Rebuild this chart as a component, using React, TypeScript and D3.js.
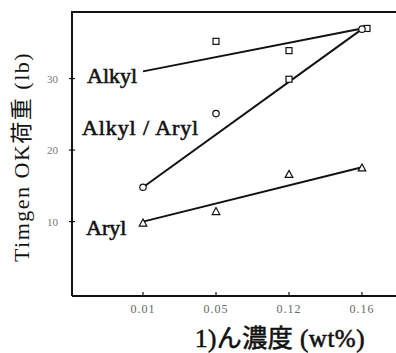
import React from "react";
import * as d3 from "d3";

const categories = ["0.01", "0.05", "0.12", "0.16"];
const yTicks = [10, 20, 30];
const alkylPoints: [string, number][] = [["0.05", 35.2], ["0.12", 33.9], ["0.16", 37.0]];
const alkylLine: [string, number][] = [["0.01", 31.0], ["0.16", 37.0]];
const mixedPoints: [string, number][] = [["0.01", 14.8], ["0.05", 25.1], ["0.12", 29.9], ["0.16", 36.9]];
const mixedLine: [string, number][] = [["0.01", 14.8], ["0.16", 36.9]];
const arylPoints: [string, number][] = [["0.01", 9.8], ["0.05", 11.4], ["0.12", 16.6], ["0.16", 17.5]];
const arylLine: [string, number][] = [["0.01", 10.0], ["0.16", 17.6]];

const serif = "Liberation Serif, DejaVu Serif, serif";
const cjk = "Noto Sans CJK JP, sans-serif";

export default function App() {
  const x = d3.scalePoint<string>().domain(categories).range([143, 362]);
  const y = d3.scaleLinear().domain([-0.4, 39.3]).range([296, 12]);
  const line = d3
    .line<[string, number]>()
    .x((d) => x(d[0]) as number)
    .y((d) => y(d[1]));
  const left = 72;
  const bottom = 296;
  const top = 12;
  const sq = (d: [string, number], i: number, dx = 0) => (
    <rect key={"s" + i} x={(x(d[0]) as number) + dx - 3} y={y(d[1]) - 3} width={6} height={6} fill="white" stroke="#111" strokeWidth={1.2} />
  );
  const circ = (d: [string, number], i: number) => (
    <circle key={"c" + i} cx={x(d[0]) as number} cy={y(d[1])} r={3.2} fill="white" stroke="#111" strokeWidth={1.2} />
  );
  const tri = (d: [string, number], i: number) => {
    const cx = x(d[0]) as number;
    const cy = y(d[1]);
    return (
      <path key={"t" + i} d={`M${cx},${cy - 4}L${cx + 3.8},${cy + 3}L${cx - 3.8},${cy + 3}Z`} fill="white" stroke="#111" strokeWidth={1.2} />
    );
  };
  const boldStyle = { stroke: "#111", strokeWidth: 0.6 };
  return (
    <svg width={396} height={353} style={{ position: "absolute", left: 0, top: 0 }}>
      <rect width={396} height={353} fill="white" />
      {/* frame */}
      <path d={`M${left},${bottom}V${top}H396`} fill="none" stroke="#111" strokeWidth={2} />
      <line x1={left} x2={396} y1={bottom} y2={bottom} stroke="#111" strokeWidth={2} />
      {/* y ticks */}
      {yTicks.map((t) => (
        <g key={t}>
          <line x1={left - 3} x2={left + 3} y1={y(t)} y2={y(t)} stroke="#111" strokeWidth={1.2} />
          <text x={left - 14} y={y(t) + 4} fontFamily={serif} fontSize={11} fill="#777" textAnchor="end">
            {t}
          </text>
        </g>
      ))}
      {/* x ticks */}
      {categories.map((c) => (
        <g key={c}>
          <line x1={x(c) as number} x2={x(c) as number} y1={bottom} y2={bottom - 4} stroke="#111" strokeWidth={1.2} />
          <text x={x(c) as number} y={bottom + 17} fontFamily={serif} fontSize={12} fill="#666" textAnchor="middle" letterSpacing={1}>
            {c}
          </text>
        </g>
      ))}
      {/* lines */}
      <path d={line(alkylLine) as string} fill="none" stroke="#111" strokeWidth={2} />
      <path d={line(mixedLine) as string} fill="none" stroke="#111" strokeWidth={2} />
      <path d={line(arylLine) as string} fill="none" stroke="#111" strokeWidth={2} />
      {/* markers */}
      {alkylPoints.map((d, i) => sq(d, i, d[0] === "0.16" ? 5 : 0))}
      {mixedPoints.map((d, i) => (d[0] === "0.12" ? sq(d, 10 + i) : circ(d, i)))}
      {arylPoints.map((d, i) => tri(d, i))}
      {/* series labels */}
      <text x={87} y={83} fontFamily={serif} fontSize={22} fill="#111" style={boldStyle}>Alkyl</text>
      <text x={82} y={135} fontFamily={serif} fontSize={22} fill="#111" style={boldStyle} letterSpacing={0.9}>Alkyl / Aryl</text>
      <text x={86} y={235} fontFamily={serif} fontSize={22} fill="#111" style={boldStyle}>Aryl</text>
      {/* axis titles */}
      <text
        transform={`translate(29,157) rotate(-90)`}
        fontFamily={serif}
        fontSize={22}
        fill="#111"
        textAnchor="middle"
        letterSpacing={1.5}
      >
        Timgen OK<tspan fontFamily={cjk}>荷重</tspan> (lb)
      </text>
      <text x={280} y={347} fontFamily={serif} fontSize={25} fill="#111" textAnchor="middle" style={boldStyle} letterSpacing={0.5}>
        1)<tspan fontFamily={cjk}>ん濃度</tspan> (wt%)
      </text>
    </svg>
  );
}
